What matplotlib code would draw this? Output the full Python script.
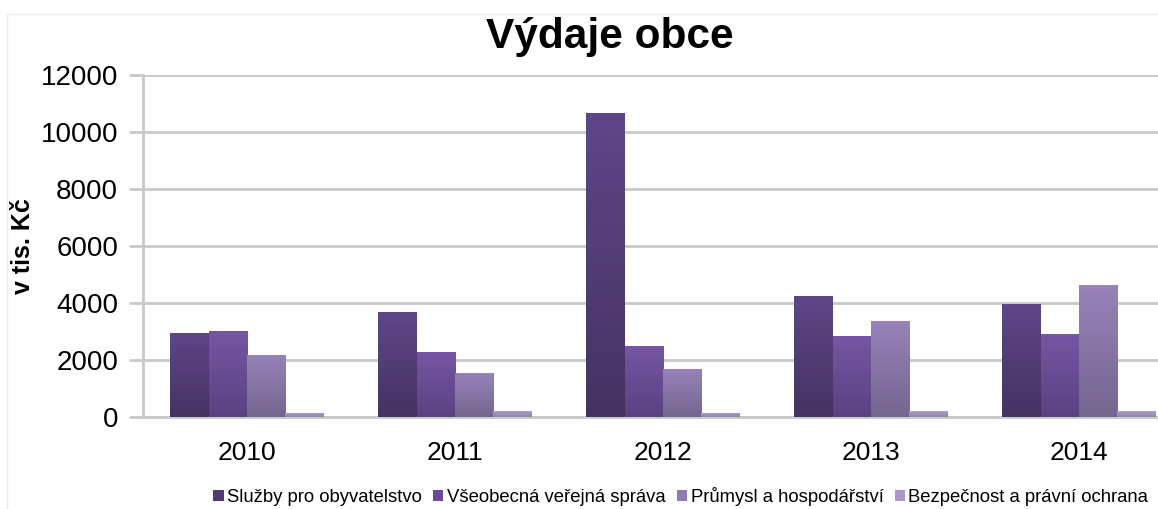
import numpy as np
import matplotlib
matplotlib.use("Agg")
import matplotlib.pyplot as plt
from matplotlib.patches import Rectangle
from matplotlib.colors import LinearSegmentedColormap

plt.rcParams['font.family'] = ['Liberation Sans', 'DejaVu Sans']

years = ["2010", "2011", "2012", "2013", "2014"]
series_names = ["Služby pro obyvatelstvo", "Všeobecná veřejná správa",
                "Průmysl a hospodářství", "Bezpečnost a právní ochrana"]
sluzby = [2950, 3680, 10650, 4250, 3960]
sprava = [3030, 2280, 2500, 2850, 2910]
prumysl = [2180, 1560, 1700, 3380, 4630]
bezpecnost = [150, 220, 150, 210, 210]
values = [sluzby, sprava, prumysl, bezpecnost]

# (top colour, bottom colour) for the gradient fill of each series
grad = [("#5f4689", "#463262"),
        ("#7656a3", "#5a4282"),
        ("#9882b9", "#75668f"),
        ("#ad9dcb", "#9484b0")]
legend_colors = ["#4f3a73", "#6a4c96", "#8f7bb3", "#a999c8"]

fig = plt.figure(figsize=(11.58, 5.09), dpi=100)
ax = fig.add_axes([143 / 1158, 92 / 509, 1040 / 1158, 342 / 509])

x = np.arange(len(years))
w = 0.184
for i, vals in enumerate(values):
    cmap = LinearSegmentedColormap.from_list("g%d" % i, [grad[i][1], grad[i][0]])
    bars = ax.bar(x + (i - 1.5) * w, vals, w, color=legend_colors[i],
                  label=series_names[i], zorder=3, linewidth=0)
    for b in bars:
        x0, y0 = b.get_x(), b.get_y()
        im = ax.imshow(np.linspace(0, 1, 64).reshape(-1, 1), cmap=cmap,
                       extent=[x0, x0 + b.get_width(), y0, y0 + b.get_height()],
                       origin="lower", aspect="auto", zorder=4)
        im.set_clip_path(b)

ax.set_xlim(-0.5, 4.5)
ax.set_ylim(0, 12000)
ax.set_yticks(range(0, 12001, 2000))
ax.set_xticks(x)
ax.set_xticklabels(years)
ax.grid(axis="y", color="#c9c9c9", linewidth=2, zorder=0)
for s in ["top", "right"]:
    ax.spines[s].set_visible(False)
ax.spines["left"].set_color("#c9c9c9")
ax.spines["left"].set_linewidth(2)
ax.spines["bottom"].set_color("#c9c9c9")
ax.spines["bottom"].set_linewidth(2)
ax.tick_params(axis="y", length=10, width=2, color="#c9c9c9", labelsize=20, pad=8)
ax.tick_params(axis="x", length=0, labelsize=19, pad=17)
ax.set_ylabel("v tis. Kč", fontsize=18, fontweight="bold")
ax.yaxis.set_label_coords(-0.104, 0.5)

fig.text(0.527, 0.928, "Výdaje obce", fontsize=30.5, fontweight="bold",
         ha="center", va="center")

fig.legend(loc="center", bbox_to_anchor=(0.588, 0.024), ncol=4, frameon=False,
           fontsize=13.3, handlelength=0.55, handleheight=0.55, handletextpad=0.2,
           columnspacing=0.6, borderaxespad=0)

fig.add_artist(Rectangle((7 / 1158, -0.1), 1.2, 1.1 - 14 / 509,
                         transform=fig.transFigure, fill=False,
                         edgecolor="#ececec", linewidth=1))

fig.savefig("out.png", dpi=100)
